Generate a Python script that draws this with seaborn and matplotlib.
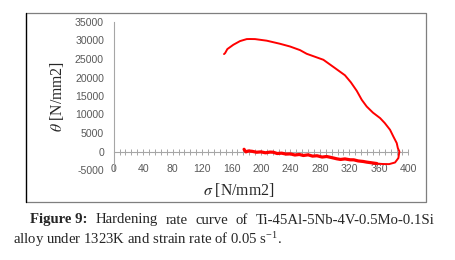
import numpy as np
import matplotlib
matplotlib.use('Agg')
import matplotlib.pyplot as plt
import seaborn as sns
from matplotlib.lines import Line2D

sns.set_style('white')
plt.rcParams['font.family'] = ['Liberation Sans', 'DejaVu Sans']
plt.rcParams['mathtext.fontset'] = 'stix'

# hardening rate curve (sigma in N/mm2, theta in N/mm2)
sigma_up = [149.8, 151.3, 154.3, 162.4, 171.5, 180.6, 185.0, 191.9, 207.8, 225.9,
            239.4, 253.0, 262.0, 284.7, 300.5, 314.0, 322.0, 330.0, 336.8, 343.5,
            352.0, 361.7, 368.0, 375.2, 379.7, 384.3, 385.8, 387.9, 386.5, 382.0,
            374.0, 365.0, 357.1]
theta_up = [26330, 26600, 27680, 28840, 29840, 30380, 30400, 30380, 29950, 29110,
            28380, 27400, 26410, 24790, 22540, 20600, 18700, 16400, 13970, 12160,
            10500, 9030, 7700, 5870, 4050, 2270, 920, 0, -1780, -2970,
            -3410, -3380, -3250]
# noisy return branch back towards low stress
sigma_low = [357.1, 350.0, 343.5, 338.9, 332.0, 326.0, 320.9, 314.0, 308.0, 302.8,
             296.0, 289.2, 283.0, 276.0, 270.0, 264.0, 257.5, 252.0, 246.0, 240.0,
             234.0, 228.0, 222.0, 216.7, 212.3, 206.0, 200.0, 194.0, 188.0, 183.0,
             179.5, 177.5, 177.0]
theta_low = [-3250, -3050, -2870, -2700, -2550, -2250, -2240, -2000, -2150, -1970,
             -1650, -1350, -1500, -1150, -1250, -900, -1080, -800, -950, -650,
             -700, -450, -550, -200, -160, -350, -100, -200, 50, 150,
             -100, 400, 600]

x_major = list(range(0, 401, 40))
y_major = list(range(-5000, 35001, 5000))

W, H = 455, 260
fig = plt.figure(figsize=(W / 100, H / 100), dpi=100)
ax = fig.add_axes([113.7 / W, 1 - 170 / H, 294.6 / W, 148 / H])

sns.lineplot(x=sigma_up, y=theta_up, sort=False, estimator=None, color='#ff0000', lw=1.4, ax=ax)
sns.lineplot(x=sigma_low, y=theta_low, sort=False, estimator=None, color='#ff0000', lw=2.3, ax=ax)

ax.set_xlim(0, 400)
ax.set_ylim(-5000, 35000)
grey = '#a6a6a6'
for s in ['top', 'right', 'bottom']:
    ax.spines[s].set_visible(False)
ax.spines['left'].set_color(grey)
ax.spines['left'].set_linewidth(0.8)

ax.set_xticks(x_major)
ax.set_xticklabels([str(v) for v in x_major])
ax.set_yticks(y_major)
ax.set_yticklabels([str(v) for v in y_major])
ax.tick_params(axis='both', length=0, labelsize=7.6, labelcolor='#595959')
ax.tick_params(axis='x', pad=-4.5)
ax.tick_params(axis='y', pad=7)

# horizontal axis line at theta = 0 with cross tick marks
sec = ax.secondary_xaxis(5000 / 40000)
sec.spines['bottom'].set_color(grey)
sec.spines['bottom'].set_linewidth(0.8)
sec.set_xticks(list(range(0, 401, 8)))
sec.tick_params(axis='x', direction='inout', length=5, width=0.7, color=grey, labelbottom=False)

ax.set_xlabel('')
ax.set_ylabel('')
fig.text(57 / W, 1 - 96.5 / H, r'$\theta$ [N/mm2]', rotation=90, ha='center', va='center',
         fontsize=11.3, family='Liberation Serif')
fig.text(238.5 / W, 1 - 190 / H, r'$\sigma$ [N/mm2]', ha='center', va='center',
         fontsize=11.3, family='Liberation Serif')

# chart frame
fig.add_artist(Line2D([26 / W, 426 / W, 426 / W, 26 / W], [1 - 13.3 / H, 1 - 13.3 / H, 1 - 202 / H, 1 - 202 / H],
                      transform=fig.transFigure, color='#7f7f7f', lw=0.9))
fig.add_artist(Line2D([26 / W, 26 / W], [1 - 13.3 / H, 1 - 202 / H],
                      transform=fig.transFigure, color='#000000', lw=1.0))

# caption, first line justified between x=30 and x=435
cap_words = ['Figure 9:', 'Hardening', 'rate', 'curve', 'of', 'Ti-45Al-5Nb-4V-0.5Mo-0.1Si']
renderer = fig.canvas.get_renderer()
texts = []
for i, w in enumerate(cap_words):
    t = fig.text(0, 1 - 220 / H, w, ha='left', va='center', fontsize=10.6,
                 family='Liberation Serif', weight='bold' if i == 0 else 'normal')
    texts.append(t)
widths = [t.get_window_extent(renderer).width for t in texts]
gap = (435 - 30 - sum(widths)) / (len(texts) - 1)
xx = 30
for t, wd in zip(texts, widths):
    t.set_x(xx / W)
    xx += wd + gap
fig.text(13 / W, 1 - 239 / H, r'alloy under 1323K and strain rate of 0.05 s$^{\mathregular{-1}}$.',
         ha='left', va='center', fontsize=10.6, family='Liberation Serif')

fig.savefig('out.png', dpi=100)
